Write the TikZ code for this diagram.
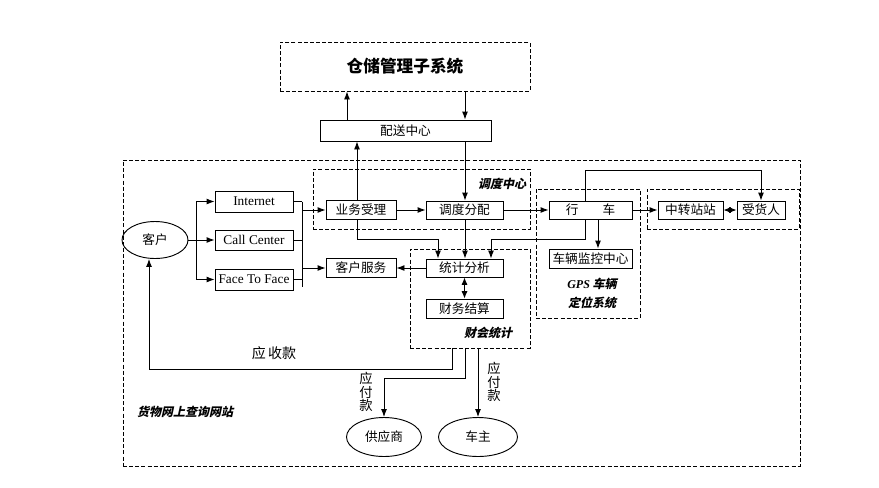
\documentclass[tikz,border=0pt]{standalone}
\usepackage{fontspec}
\setmainfont{Liberation Serif}
\newfontfamily\cjk{Noto Sans CJK SC}
\newfontfamily\cjkbi[FakeSlant=0.22]{Noto Sans CJK SC}
\usetikzlibrary{arrows.meta,shapes.geometric}
\tikzset{
  sz/.style 2 args={minimum width=#1*0.75pt, minimum height=#2*0.75pt},
  box/.style={draw, line width=0.7pt, inner sep=0pt, font=\cjk\fontsize{9.5}{11}\selectfont},
  lbox/.style={draw, line width=0.7pt, inner sep=0pt, font=\fontsize{10}{12}\selectfont},
  dbox/.style={draw, line width=0.7pt, dash pattern=on 3pt off 1.6pt, inner sep=0pt},
  ell/.style={draw, ellipse, line width=0.7pt, inner sep=0pt, font=\cjk\fontsize{9.5}{11}\selectfont},
  con/.style={line width=0.7pt},
  arr/.style={con, -{Latex[length=6pt,width=4.5pt]}},
  darr/.style={con, {Latex[length=5.5pt,width=4.5pt]}-{Latex[length=5.5pt,width=4.5pt]}},
  lab/.style={inner sep=0pt, font=\cjkbi\bfseries\fontsize{9}{10}\selectfont},
  txt/.style={inner sep=0pt, font=\cjk\fontsize{10.5}{12}\selectfont},
  vtxt/.style={inner sep=0pt, align=center, font=\cjk\fontsize{10}{10.4}\selectfont},
}
\begin{document}
\begin{tikzpicture}[x=0.75pt,y=-0.75pt]
\useasboundingbox (0,0) rectangle (879,487);
% dashed groups
\node[dbox, sz={250}{49}, font=\cjk\bfseries\fontsize{12.5}{14}\selectfont] (wh) at (405,66.5) {仓储管理子系统};
\node[dbox, sz={677}{306}] (site) at (461.5,313) {};
\node[dbox, sz={217}{60}] (ddzx) at (421.5,199) {};
\node[dbox, sz={120}{99}] (hcj) at (470,298.5) {};
\node[dbox, sz={104}{129}] (gps) at (588,253.5) {};
\node[dbox, sz={152}{40}] (rt) at (723,209) {};
% boxes
\node[box, sz={171}{21}] (ps) at (405.5,130.5) {配送中心};
\node[ell, sz={66}{37}] (kh) at (155,240) {客户};
\node[lbox, sz={78}{21}] (inet) at (254,201.5) {Internet};
\node[lbox, sz={78}{20}] (cc) at (254,240) {Call Center};
\node[lbox, sz={78}{21}] (ftf) at (254,279.5) {Face To Face};
\node[box, sz={70}{19}] (ywsl) at (361,210) {业务受理};
\node[box, sz={70}{19}] (khfw) at (361,268) {客户服务};
\node[box, sz={77}{18}] (ddfp) at (464.5,210) {调度分配};
\node[box, sz={77}{18}] (tjfx) at (464.5,268) {统计分析};
\node[box, sz={77}{19}] (cwjs) at (464.5,308.5) {财务结算};
\node[box, sz={83}{18}] (hc) at (590.5,210) {行\hspace{1.9em}车};
\node[box, sz={83}{19}] (clj) at (590.5,258.5) {车辆监控中心};
\node[box, sz={65}{18}] (zz) at (690.5,210) {中转站站};
\node[box, sz={48}{18}] (shr) at (761,210) {受货人};
\node[ell, sz={75}{39}] (gys) at (384,437) {供应商};
\node[ell, sz={79}{39}] (cz) at (478,437) {车主};
% labels
\node[lab] (l1) at (502,184) {调度中心};
\node[lab] (l2) at (592,284) {{\rmfamily\bfseries\itshape GPS} 车辆};
\node[lab] (l3) at (592,303) {定位系统};
\node[lab] (l4) at (488,333) {财会统计};
\node[lab] (l5) at (185,412) {货物网上查询网站};
\node[txt] (l6) at (274,353) {应\,收款};
\node[vtxt] (l7) at (366,392) {应\\付\\款};
\node[vtxt] (l8) at (494,382) {应\\付\\款};
% helper coordinates
\coordinate (vA) at (347,0);
\coordinate (vB) at (357,0);
\coordinate (vC) at (465,0);
\coordinate (vD) at (438,0);
\coordinate (vE) at (491,0);
\coordinate (vF) at (585,0);
\coordinate (vG) at (598,0);
\coordinate (vI) at (196,0);
\coordinate (vJ) at (302,0);
\coordinate (vK) at (452,0);
\coordinate (vL) at (149,0);
\coordinate (hA) at (0,170);
\coordinate (hB) at (0,239);
\coordinate (hC) at (0,369);
\coordinate (hD) at (0,378);
\coordinate (hE) at (0,287);
% connectors
\draw[arr] (ps.north -| vA) -- (wh.south -| vA);
\draw[arr] (wh.south -| vC) -- (ps.north -| vC);
\draw[arr] (ywsl.north -| vB) -- (ps.south -| vB);
\draw[arr] (ps.south -| vC) -- (ddfp.north -| vC);
\draw[arr] (kh.east) -- (cc.west);
\draw[con] (inet.west -| vI) -- (ftf.west -| vI);
\draw[arr] (inet.west -| vI) -- (inet.west);
\draw[arr] (ftf.west -| vI) -- (ftf.west);
\draw[con] (inet.east) -- (inet.east -| vJ);
\draw[con] (cc.east) -- (cc.east -| vJ);
\draw[con] (ftf.east) -- (ftf.east -| vJ);
\draw[con] (inet.east -| vJ) -- (vJ |- hE);
\draw[arr] (vJ |- ywsl.west) -- (ywsl.west);
\draw[arr] (vJ |- khfw.west) -- (khfw.west);
\draw[arr] (ywsl.east) -- (ddfp.west);
\draw[arr] (ddfp.east) -- (hc.west);
\draw[arr] (hc.east) -- (zz.west);
\draw[darr] (zz.east) -- (shr.west);
\draw[arr] (hc.north -| vF) -- (vF |- hA) -| (shr.north);
\draw[arr] (hc.south -| vF) -- (vF |- hB) -| (tjfx.north -| vE);
\draw[arr] (ywsl.south -| vB) -- (vB |- hB) -| (tjfx.north -| vD);
\draw[arr] (ddfp.south -| vC) -- (tjfx.north -| vC);
\draw[arr] (hc.south -| vG) -- (clj.north -| vG);
\draw[arr] (tjfx.west) -- (khfw.east);
\draw[darr] (tjfx.south) -- (cwjs.north);
\draw[arr] (hcj.south -| vK) -- (vK |- hC) -| (kh.south -| vL);
\draw[arr] (hcj.south -| vC) -- (vC |- hD) -| (gys.north);
\draw[arr] (hcj.south -| cz.north) -- (cz.north);
\end{tikzpicture}
\end{document}
